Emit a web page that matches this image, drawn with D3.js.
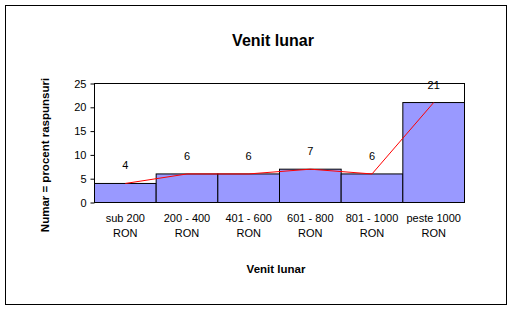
<!DOCTYPE html>
<html>
<head>
<meta charset="utf-8">
<script src="https://cdn.jsdelivr.net/npm/d3@7"></script>
<style>
    body { margin: 0; background: #fff; }
    text { font-family: Arial, "Liberation Sans", sans-serif; fill: #000; }
</style>
</head>
<body>
<svg width="513" height="311"></svg>
<script>
    var categories = ["sub 200|RON", "200 - 400|RON", "401 - 600|RON", "601 - 800|RON", "801 - 1000|RON", "peste 1000|RON"];
    var values = [4, 6, 6, 7, 6, 21];
    var yTicks = [0, 5, 10, 15, 20, 25];

    var svg = d3.select("svg");
    // plot area edges (window.top is reserved, so use other names)
    var plotLeft = 94.5, plotRight = 464.5, plotTop = 83.5, plotBottom = 202.5;

    // outer frame
    svg.append("rect")
        .attr("x", 5.5).attr("y", 5.5)
        .attr("width", 501).attr("height", 299)
        .attr("fill", "#fff").attr("stroke", "#000");

    var x = d3.scaleBand().domain(categories).range([plotLeft, plotRight]).padding(0);
    var y = d3.scaleLinear().domain([0, 25]).range([plotBottom, plotTop]);

    svg.append("text")
        .attr("x", 273).attr("y", 46)
        .attr("text-anchor", "middle")
        .attr("font-size", "16px").attr("font-weight", "bold")
        .text("Venit lunar");

    svg.append("rect")
        .attr("x", plotLeft).attr("y", plotTop)
        .attr("width", plotRight - plotLeft).attr("height", plotBottom - plotTop)
        .attr("fill", "#fff").attr("stroke", "#000");

    svg.selectAll("rect.bar").data(values).enter()
        .append("rect")
        .attr("class", "bar")
        .attr("x", function(d, i) { return x(categories[i]); })
        .attr("y", function(d) { return y(d); })
        .attr("width", x.bandwidth())
        .attr("height", function(d) { return plotBottom - y(d); })
        .attr("fill", "#9999FF")
        .attr("stroke", "#000");

    var line = d3.line()
        .x(function(d, i) { return x(categories[i]) + x.bandwidth() / 2; })
        .y(function(d) { return y(d); });
    svg.append("path")
        .datum(values)
        .attr("d", line)
        .attr("fill", "none")
        .attr("stroke", "#FF0000")
        .attr("stroke-width", 1);

    svg.selectAll("text.lbl").data(values).enter()
        .append("text")
        .attr("class", "lbl")
        .attr("x", function(d, i) { return x(categories[i]) + x.bandwidth() / 2; })
        .attr("y", function(d) { return y(d) - 14; })
        .attr("text-anchor", "middle")
        .attr("font-size", "11px")
        .text(function(d) { return d; });

    var yAxis = d3.axisLeft(y).tickValues(yTicks).tickSize(4).tickPadding(4);
    var ga = svg.append("g").attr("transform", "translate(" + plotLeft + ",0)").call(yAxis);
    ga.select(".domain").remove();
    ga.selectAll("line").attr("stroke", "#000");
    ga.selectAll("text").attr("font-size", "11px").attr("font-family", "Arial, 'Liberation Sans', sans-serif");

    var cat = svg.selectAll("text.cat").data(categories).enter()
        .append("text")
        .attr("class", "cat")
        .attr("text-anchor", "middle")
        .attr("font-size", "11px")
        .attr("x", function(d) { return x(d) + x.bandwidth() / 2; })
        .attr("y", 222);
    cat.append("tspan").text(function(d) { return d.split("|")[0]; });
    cat.append("tspan")
        .attr("x", function(d) { return x(d) + x.bandwidth() / 2; })
        .attr("dy", 15)
        .text(function(d) { return d.split("|")[1]; });

    svg.append("text")
        .attr("x", 276).attr("y", 273)
        .attr("text-anchor", "middle")
        .attr("font-size", "11.5px").attr("font-weight", "bold")
        .text("Venit lunar");

    svg.append("text")
        .attr("transform", "translate(49,155) rotate(-90)")
        .attr("text-anchor", "middle")
        .attr("font-size", "11.5px").attr("font-weight", "bold")
        .text("Numar = procent raspunsuri");
</script>
</body>
</html>
